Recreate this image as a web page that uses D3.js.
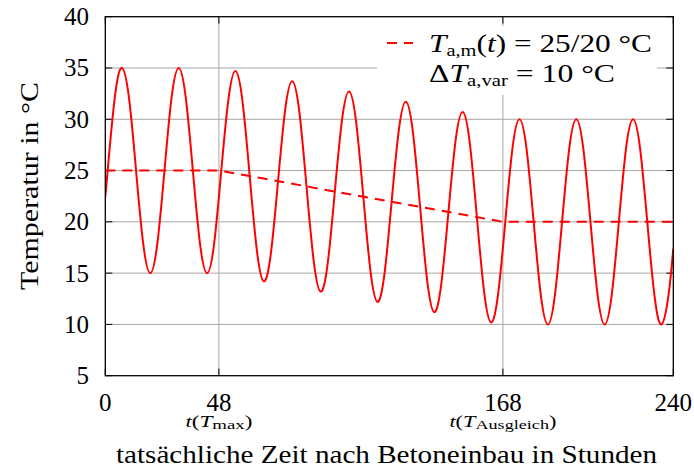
<!DOCTYPE html>
<html>
<head>
<meta charset="utf-8">
<script src="https://cdn.jsdelivr.net/npm/d3@7"></script>
<style>
  body { margin: 0; background: #fff; }
  text { font-family: "Liberation Serif", "Times New Roman", serif; fill: #000; }
</style>
</head>
<body>
<svg id="chart" width="694" height="472"></svg>
<script>
// Air temperature after concreting: daily cycle (±10 °C) around a mean that
// drops from 25 °C to 20 °C between t(Tmax) and t(TAusgleich).
const hours = [0, 1, 4, 7, 10, 13, 16, 19, 22, 25, 28, 31, 34, 37, 40, 43, 46,
  49, 52, 55, 58, 61, 64, 67, 70, 73, 76, 79, 82, 85, 88, 91, 94,
  97, 100, 103, 106, 109, 112, 115, 118, 121, 124, 127, 130, 133, 136, 139, 142,
  145, 148, 151, 154, 157, 160, 163, 166, 169, 172, 175, 178, 181, 184, 187, 190,
  193, 196, 199, 202, 205, 208, 211, 214, 217, 220, 223, 226, 229, 232, 235, 238, 240];
const temps = [22.4, 25, 32.1, 35, 32.1, 25, 17.9, 15, 17.9, 25, 32.1, 35, 32.1, 25, 17.9, 15, 17.9,
  25.0, 31.9, 34.7, 31.7, 24.5, 17.3, 14.2, 17.0, 24.0, 30.9, 33.7, 30.7, 23.5, 16.3, 13.2, 16.0,
  23.0, 29.9, 32.7, 29.7, 22.5, 15.3, 12.2, 15.0, 22.0, 28.9, 31.7, 28.7, 21.5, 14.3, 11.2, 14.0,
  21.0, 27.9, 30.7, 27.7, 20.5, 13.3, 10.2, 13.0, 20, 27.1, 30, 27.1, 20, 12.9, 10, 12.9,
  20, 27.1, 30, 27.1, 20, 12.9, 10, 12.9, 20, 27.1, 30, 27.1, 20, 12.9, 10, 12.9, 17.4];

const meanHours = [0, 48, 168, 240];
const meanTemps = [25, 25, 20, 20];

const xTicks = [0, 48, 168, 240];
const yTicks = [5, 10, 15, 20, 25, 30, 35, 40];
const gridHours = [48, 168];
const markerHours = [48, 168];
const markerSubs = ["max", "Ausgleich"];

const svg = d3.select("#chart");
const plotL = 105.3, plotR = 673.3, plotT = 16.7, plotB = 375.7;

const x = d3.scaleLinear().domain([0, 240]).range([plotL, plotR]);
const y = d3.scaleLinear().domain([5, 40]).range([plotB, plotT]);

// grid
const grid = svg.append("g").attr("stroke", "#a6a6a6").attr("stroke-width", 1);
grid.selectAll("line.h").data(yTicks.filter(v => v > 5 && v < 40)).join("line")
  .attr("x1", plotL).attr("x2", plotR).attr("y1", d => y(d)).attr("y2", d => y(d));
grid.selectAll("line.v").data(gridHours).join("line")
  .attr("y1", plotT).attr("y2", plotB).attr("x1", d => x(d)).attr("x2", d => x(d));

// tick marks on all four sides
const ticks = svg.append("g").attr("stroke", "#000").attr("stroke-width", 1);
const tl = 7;
yTicks.forEach(v => {
  ticks.append("line").attr("x1", plotL).attr("x2", plotL + tl).attr("y1", y(v)).attr("y2", y(v));
  ticks.append("line").attr("x1", plotR - tl).attr("x2", plotR).attr("y1", y(v)).attr("y2", y(v));
});
xTicks.forEach(v => {
  ticks.append("line").attr("x1", x(v)).attr("x2", x(v)).attr("y1", plotB).attr("y2", plotB - tl);
  ticks.append("line").attr("x1", x(v)).attr("x2", x(v)).attr("y1", plotT).attr("y2", plotT + tl);
});

// legend background hides the grid behind it
svg.append("rect").attr("x", 377).attr("y", 26).attr("width", 280).attr("height", 69)
  .attr("fill", "#fff");

// curves
svg.append("clipPath").attr("id", "plotClip").append("rect")
  .attr("x", plotL).attr("y", plotT).attr("width", plotR - plotL).attr("height", plotB - plotT);

const tempLine = d3.line().x((d, i) => x(hours[i])).y(d => y(d)).curve(d3.curveNatural);
svg.append("path").attr("clip-path", "url(#plotClip)")
  .attr("d", tempLine(temps))
  .attr("fill", "none").attr("stroke", "#ff0000").attr("stroke-width", 2);

const meanLine = d3.line().x((d, i) => x(meanHours[i])).y(d => y(d));
svg.append("path").attr("d", meanLine(meanTemps))
  .attr("fill", "none").attr("stroke", "#ff0000").attr("stroke-width", 2)
  .attr("stroke-dasharray", "10,7");

// frame
svg.append("rect").attr("x", plotL).attr("y", plotT).attr("width", plotR - plotL).attr("height", plotB - plotT)
  .attr("fill", "none").attr("stroke", "#000").attr("stroke-width", 1.3);

// axis labels
svg.append("g").selectAll("text").data(yTicks).join("text")
  .attr("x", 89).attr("y", d => y(d)).attr("dy", "0.34em")
  .attr("text-anchor", "end").attr("font-size", 25).text(d => d);

svg.append("g").selectAll("text").data(xTicks).join("text")
  .attr("x", d => x(d)).attr("y", 411)
  .attr("text-anchor", "middle").attr("font-size", 25).text(d => d);

// t(Tmax), t(TAusgleich) markers
const markerWidths = [67, 107];
markerHours.forEach((h, i) => {
  const t = svg.append("text").attr("x", x(h) - markerWidths[i] / 2).attr("y", 427)
    .attr("font-size", 16)
    .attr("textLength", markerWidths[i]).attr("lengthAdjust", "spacingAndGlyphs");
  t.append("tspan").attr("font-style", "italic").text("t");
  t.append("tspan").text("(");
  t.append("tspan").attr("font-style", "italic").text("T");
  t.append("tspan").attr("font-size", 13).attr("dy", 2).text(markerSubs[i]);
  t.append("tspan").attr("dy", -2).text(")");
});

svg.append("text").attr("x", 116).attr("y", 463)
  .attr("font-size", 25).attr("textLength", 541).attr("lengthAdjust", "spacingAndGlyphs")
  .text("tatsächliche Zeit nach Betoneinbau in Stunden");

svg.append("text").attr("transform", "translate(38,290) rotate(-90)")
  .attr("font-size", 25).attr("textLength", 208).attr("lengthAdjust", "spacingAndGlyphs")
  .text("Temperatur in °C");

// legend
svg.append("line").attr("x1", 387).attr("x2", 413).attr("y1", 43).attr("y2", 43)
  .attr("stroke", "#ff0000").attr("stroke-width", 2).attr("stroke-dasharray", "10,7");

const l1 = svg.append("text").attr("x", 429).attr("y", 52).attr("font-size", 26)
  .attr("textLength", 223).attr("lengthAdjust", "spacingAndGlyphs");
l1.append("tspan").attr("font-style", "italic").text("T");
l1.append("tspan").attr("font-size", 17).attr("dy", 4).text("a,m");
l1.append("tspan").attr("dy", -4).text("(");
l1.append("tspan").attr("font-style", "italic").text("t");
l1.append("tspan").text(") = 25/20 °C");

const l2 = svg.append("text").attr("x", 429).attr("y", 82).attr("font-size", 26)
  .attr("textLength", 186).attr("lengthAdjust", "spacingAndGlyphs");
l2.append("tspan").text("Δ");
l2.append("tspan").attr("font-style", "italic").text("T");
l2.append("tspan").attr("font-size", 17).attr("dy", 4).text("a,var");
l2.append("tspan").attr("dy", -4).text(" = 10 °C");
</script>
</body>
</html>
